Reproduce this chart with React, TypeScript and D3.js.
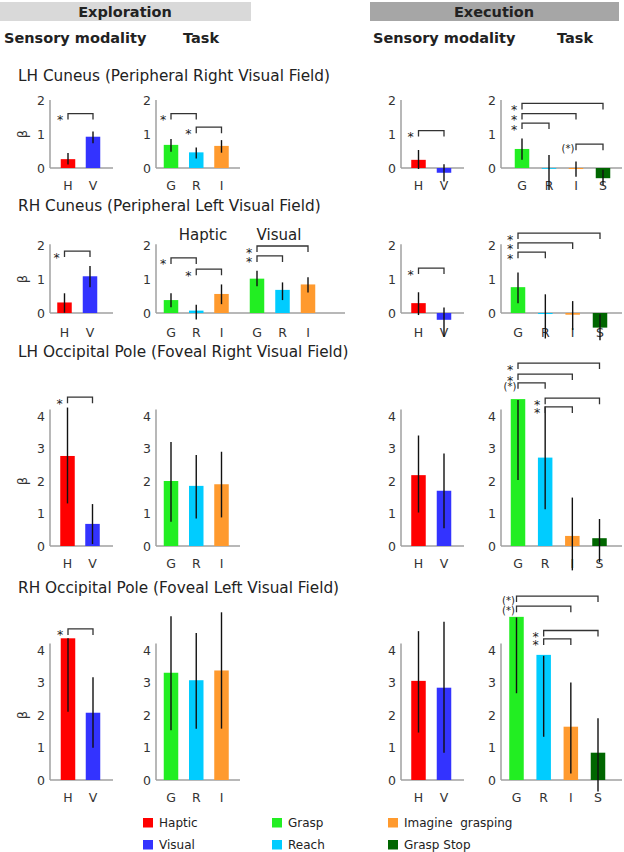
import React from "react";
import * as d3 from "d3";

// ---------- data ----------
const rowTitles = [
  "LH Cuneus (Peripheral Right Visual Field)",
  "RH Cuneus (Peripheral Left Visual Field)",
  "LH Occipital Pole (Foveal Right Visual Field)",
  "RH Occipital Pole (Foveal Left Visual Field)",
];
const modalityCats = ["H", "V"];
const taskCats = ["G", "R", "I"];
const execTaskCats = ["G", "R", "I", "S"];
const yTicksCuneus = [0, 1, 2];
const yTicksPole = [0, 1, 2, 3, 4];

const modalityColors = ["#ff0000", "#3333ff"];
const taskColors = ["#22ee22", "#00ccff", "#ff9a2e", "#006600"];

const legendLabels = ["Haptic", "Visual", "Grasp", "Reach", "Imagine  grasping", "Grasp Stop"];
const legendColors = ["#ff0000", "#3333ff", "#22ee22", "#00ccff", "#ff9a2e", "#006600"];

// Exploration – sensory modality (H, V)
const explModMean = [[0.26, 0.92], [0.31, 1.08], [2.77, 0.68], [4.36, 2.07]];
const explModLo = [[0.1, 0.73], [0.01, 0.76], [1.31, 0.06], [2.1, 0.99]];
const explModHi = [[0.44, 1.07], [0.58, 1.38], [4.26, 1.29], [4.36, 3.16]];

// Exploration – task (G, R, I); in row 2 this is the haptic group
const explTaskMean = [[0.68, 0.46, 0.65], [0.38, 0.07, 0.56], [2.0, 1.85, 1.9], [3.3, 3.07, 3.37]];
const explTaskLo = [[0.48, 0.28, 0.45], [0.17, -0.19, 0.26], [0.75, 0.85, 0.88], [1.53, 1.58, 1.58]];
const explTaskHi = [[0.85, 0.6, 0.82], [0.58, 0.24, 0.84], [3.2, 2.8, 2.9], [5.04, 4.52, 5.16]];

// Row 2 visual group
const visualTaskMean = [1.01, 0.68, 0.84];
const visualTaskLo = [0.79, 0.38, 0.6];
const visualTaskHi = [1.24, 0.9, 1.05];

// Execution – sensory modality
const execModMean = [[0.24, -0.14], [0.29, -0.2], [2.18, 1.7], [3.05, 2.84]];
const execModLo = [[-0.03, -0.4], [-0.06, -0.7], [1.03, 0.55], [1.46, 0.84]];
const execModHi = [[0.53, 0.11], [0.61, 0.16], [3.4, 2.85], [4.58, 4.87]];

// Execution – task (G, R, I, S)
const execTaskMean = [[0.56, 0, -0.03, -0.3], [0.76, -0.03, -0.05, -0.43], [4.52, 2.72, 0.31, 0.24], [5.02, 3.85, 1.64, 0.84]];
const execTaskLo = [[0.24, -0.65, -0.26, -0.5], [0.29, -0.75, -0.5, -0.8], [2.03, 1.13, -0.75, -0.5], [2.67, 1.33, 0.2, -0.35]];
const execTaskHi = [[0.87, 0.38, 0.19, -0.05], [1.19, 0.55, 0.35, -0.04], [4.49, 4.29, 1.49, 0.83], [5.0, 3.82, 3.0, 1.9]];

// Significance brackets: row, panel, from index, to index, level (beta), label
const sigRow = [0, 0, 0, 0, 0, 0, 0, 0, 1, 1, 1, 1, 1, 1, 1, 1, 1, 2, 2, 2, 2, 2, 2, 3, 3, 3, 3, 3];
const sigPanel = ["em", "et", "et", "xm", "xt", "xt", "xt", "xt", "em", "et", "et", "vt", "vt", "xm", "xt", "xt", "xt", "em", "xt", "xt", "xt", "xt", "xt", "em", "xt", "xt", "xt", "xt"];
const sigFrom = [0, 0, 1, 0, 0, 0, 0, 2, 0, 0, 1, 0, 0, 0, 0, 0, 0, 0, 0, 0, 0, 1, 1, 0, 0, 0, 1, 1];
const sigTo = [1, 1, 2, 1, 3, 2, 1, 3, 1, 1, 2, 2, 1, 1, 3, 2, 1, 1, 3, 2, 1, 3, 2, 1, 3, 2, 3, 2];
const sigLevel = [1.6, 1.6, 1.2, 1.1, 1.9, 1.6, 1.32, 0.7, 1.82, 1.62, 1.29, 1.97, 1.68, 1.32, 2.35, 2.06, 1.79, 4.58, 5.63, 5.29, 5.02, 4.55, 4.28, 4.65, 5.66, 5.35, 4.6, 4.34];
const sigLabel = ["*", "*", "*", "*", "*", "*", "*", "(*)", "*", "*", "*", "*", "*", "*", "*", "*", "*", "*", "*", "*", "(*)", "*", "*", "*", "(*)", "(*)", "*", "*"];

// ---------- layout ----------
const FONT = "DejaVu Sans, Verdana, sans-serif";
const TXT = "#222";
const AXIS = "#a0a0a0";
const BAR_W = 14.5;
const BOLD = 14.5;

const rows = [
  { zero: 168, unit: 34, top: 2, ticks: yTicksCuneus, titleY: 81, labelDy: 22, betaV: 1, mod: [68, 93], xt: [522, 603], taskEnd: 240 },
  { zero: 313, unit: 34, top: 2.02, ticks: yTicksCuneus, titleY: 211, labelDy: 24, betaV: 1, mod: [64.5, 90], xt: [518, 600], taskEnd: 345 },
  { zero: 546, unit: 32.5, top: 4.2, ticks: yTicksPole, titleY: 357, labelDy: 21.5, betaV: 2, mod: [67.5, 92.5], xt: [518, 599.5], taskEnd: 240 },
  { zero: 780, unit: 32.5, top: 4.2, ticks: yTicksPole, titleY: 593, labelDy: 21.5, betaV: 2, mod: [68, 93], xt: [516.5, 598], taskEnd: 240 },
];

const panelAxis = { em: 50, et: 156, xm: 401, xt: 501 };
const panelEnd = { em: 113, xm: 464, xt: 622 };

function xScale(row: number, panel: string) {
  const r = rows[row];
  if (panel === "em") return d3.scalePoint<string>().domain(modalityCats).range(r.mod as [number, number]);
  if (panel === "et") return d3.scalePoint<string>().domain(taskCats).range([171, 221.5]);
  if (panel === "vt") return d3.scalePoint<string>().domain(taskCats).range([257, 308]);
  if (panel === "xm") return d3.scalePoint<string>().domain(modalityCats).range([418.5, 444]);
  return d3.scalePoint<string>().domain(execTaskCats).range(r.xt as [number, number]);
}
function panelCats(panel: string) {
  if (panel === "em" || panel === "xm") return modalityCats;
  if (panel === "xt") return execTaskCats;
  return taskCats;
}

function Axis({ ax, end, y, top, ticks }: any) {
  return (
    <g>
      <line x1={ax} x2={ax} y1={y(0)} y2={y(top)} stroke={AXIS} strokeWidth={1.5} />
      <line x1={ax} x2={end} y1={y(0)} y2={y(0)} stroke={AXIS} strokeWidth={1.5} />
      {ticks.map((t: number) => (
        <text key={t} x={ax - 5} y={y(t)} dy="0.36em" textAnchor="end" fontSize={12.5} fill="#333" fontFamily={FONT}>
          {t}
        </text>
      ))}
    </g>
  );
}

function Bars({ row, panel, means, lo, hi, colors, y, labelY }: any) {
  const cats = panelCats(panel);
  const x = xScale(row, panel);
  return (
    <g>
      {cats.map((c: string, i: number) => {
        const cx = x(c)!;
        const y0 = y(0);
        const y1 = y(means[i]);
        return (
          <g key={"b" + c}>
            <rect x={cx - BAR_W / 2} y={Math.min(y0, y1)} width={BAR_W} height={Math.max(Math.abs(y1 - y0), 0.8)} fill={colors[i]} />
            <text x={cx} y={labelY} textAnchor="middle" fontSize={12.5} fill="#333" fontFamily={FONT}>
              {c}
            </text>
          </g>
        );
      })}
      {cats.map((c: string, i: number) => {
        const cx = x(c)!;
        return <line key={"e" + c} x1={cx} x2={cx} y1={y(lo[i])} y2={y(hi[i])} stroke="#111" strokeWidth={1.4} />;
      })}
    </g>
  );
}

export default function App() {
  const W = 624;
  const H = 852;
  return (
    <svg width={W} height={H} style={{ position: "absolute", left: 0, top: 0, background: "#fff" }} fontFamily={FONT}>
      <rect width={W} height={H} fill="#fff" />
      {/* headers */}
      <rect x={0} y={2} width={251} height={19} fill="#d9d9d9" />
      <rect x={370} y={2} width={249} height={19} fill="#a6a6a6" />
      <text x={125} y={17} textAnchor="middle" fontWeight="bold" fontSize={BOLD} fill={TXT}>Exploration</text>
      <text x={494} y={17} textAnchor="middle" fontWeight="bold" fontSize={BOLD} fill={TXT}>Execution</text>
      <text x={4} y={43} fontWeight="bold" fontSize={BOLD} fill={TXT}>Sensory modality</text>
      <text x={183} y={43} fontWeight="bold" fontSize={BOLD} fill={TXT}>Task</text>
      <text x={373} y={43} fontWeight="bold" fontSize={BOLD} fill={TXT}>Sensory modality</text>
      <text x={557} y={43} fontWeight="bold" fontSize={BOLD} fill={TXT}>Task</text>

      {rows.map((r, ri) => {
        const y = d3.scaleLinear().domain([0, 1]).range([r.zero, r.zero - r.unit]);
        const labelY = r.zero + r.labelDy;
        return (
          <g key={ri}>
            <text x={18} y={r.titleY} fontSize={15.3} fill={TXT}>{rowTitles[ri]}</text>
            <text transform={`translate(22,${y(r.betaV)}) rotate(-90)`} textAnchor="middle" dy="0.36em" fontSize={13} fill="#333">β</text>
            <Axis ax={panelAxis.em} end={panelEnd.em} y={y} top={r.top} ticks={r.ticks} />
            <Axis ax={panelAxis.et} end={r.taskEnd} y={y} top={r.top} ticks={r.ticks} />
            <Axis ax={panelAxis.xm} end={panelEnd.xm} y={y} top={r.top} ticks={r.ticks} />
            <Axis ax={panelAxis.xt} end={panelEnd.xt} y={y} top={r.top} ticks={r.ticks} />
            <Bars row={ri} panel="em" means={explModMean[ri]} lo={explModLo[ri]} hi={explModHi[ri]} colors={modalityColors} y={y} labelY={labelY} />
            <Bars row={ri} panel="et" means={explTaskMean[ri]} lo={explTaskLo[ri]} hi={explTaskHi[ri]} colors={taskColors} y={y} labelY={labelY} />
            {ri === 1 && (
              <g>
                <Bars row={ri} panel="vt" means={visualTaskMean} lo={visualTaskLo} hi={visualTaskHi} colors={taskColors} y={y} labelY={labelY} />
                <text x={203} y={239.5} textAnchor="middle" fontSize={15} fill={TXT}>Haptic</text>
                <text x={279} y={239.5} textAnchor="middle" fontSize={15} fill={TXT}>Visual</text>
              </g>
            )}
            <Bars row={ri} panel="xm" means={execModMean[ri]} lo={execModLo[ri]} hi={execModHi[ri]} colors={modalityColors} y={y} labelY={labelY} />
            <Bars row={ri} panel="xt" means={execTaskMean[ri]} lo={execTaskLo[ri]} hi={execTaskHi[ri]} colors={taskColors} y={y} labelY={labelY} />
          </g>
        );
      })}

      {/* significance brackets */}
      {sigRow.map((ri, k) => {
        const r = rows[ri];
        const y = d3.scaleLinear().domain([0, 1]).range([r.zero, r.zero - r.unit]);
        const panel = sigPanel[k];
        const cats = panelCats(panel);
        const x = xScale(ri, panel);
        const x1 = x(cats[sigFrom[k]])!;
        const x2 = x(cats[sigTo[k]])!;
        const yy = y(sigLevel[k]);
        const paren = sigLabel[k] === "(*)";
        return (
          <g key={"s" + k}>
            <path d={`M${x1},${yy + 6}V${yy}H${x2}V${yy + 6}`} fill="none" stroke="#333" strokeWidth={1.3} />
            <text x={x1 - 8} y={yy + (paren ? 7.5 : 10.5)} textAnchor="middle" fontSize={paren ? 10 : 12.5} fill="#222">
              {sigLabel[k]}
            </text>
          </g>
        );
      })}

      {/* legend */}
      {legendLabels.map((l, i) => {
        const col = Math.floor(i / 2);
        const rw = i % 2;
        const lx = [143, 272, 388][col];
        const ly = [818, 840][rw];
        return (
          <g key={l}>
            <rect x={lx} y={ly} width={10} height={9.5} fill={legendColors[i]} />
            <text x={lx + 16} y={ly + 4.75} dy="0.36em" fontSize={12} fill={TXT} style={{ whiteSpace: "pre" }}>
              {l}
            </text>
          </g>
        );
      })}
    </svg>
  );
}
